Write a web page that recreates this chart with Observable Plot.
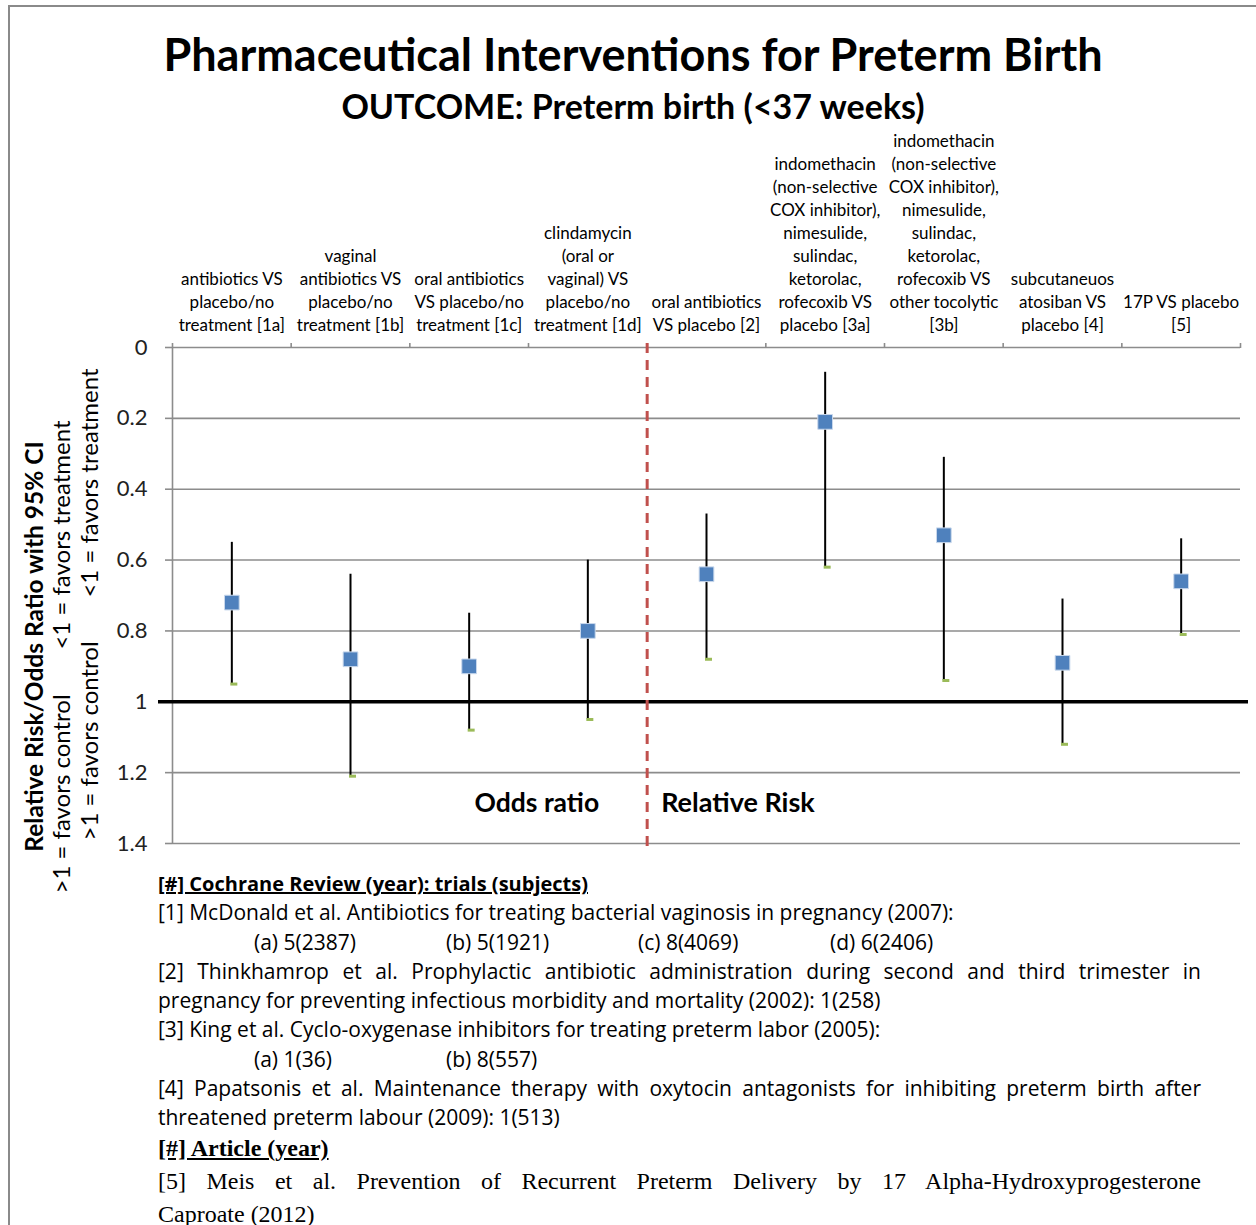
<!DOCTYPE html>
<html>
<head>
<meta charset="utf-8">
<script src="https://cdn.jsdelivr.net/npm/d3@7"></script>
<script src="https://cdn.jsdelivr.net/npm/@observablehq/plot@0.6"></script>
<style>
  html, body { margin: 0; padding: 0; background: #fff; }
  body { width: 1256px; height: 1225px; overflow: hidden; position: relative; font-family: Lato, sans-serif; color: #000; }
  #border { position: absolute; left: 8px; top: 5px; width: 1300px; height: 1300px; border-left: 2px solid #8a8a8a; border-top: 2px solid #8a8a8a; }
  .title { position: absolute; left: 8px; width: 1250px; text-align: center; font-weight: 700; white-space: nowrap; }
  #t1 { top: 32px; font-size: 45px; line-height: 45px; }
  #t2 { top: 89px; font-size: 34px; line-height: 34px; }
  #chart { position: absolute; left: 0; top: 130px; }
  #notes { position: absolute; left: 158px; top: 869px; width: 1043px; font-family: "Open Sans", sans-serif; font-size: 21px; }
  #notes .ln { height: 29.3px; line-height: 29.3px; white-space: nowrap; }
  #notes .jf { text-align: justify; text-align-last: justify; white-space: normal; }
  #notes .hd { font-weight: 700; text-decoration: underline; font-size: 20px; }
  #notes .col { display: inline-block; width: 192px; }
  #notes .ind { padding-left: 96px; }
  #serif { position: absolute; left: 158px; top: 1132px; width: 1043px; font-family: "Liberation Serif", serif; font-size: 24px; }
  #serif .ln { height: 33px; line-height: 33px; white-space: nowrap; }
  #serif .jf { text-align: justify; text-align-last: justify; white-space: normal; }
  #serif .hd { font-weight: 700; text-decoration: underline; }
</style>
</head>
<body>
<div id="border"></div>
<div class="title" id="t1"></div>
<div class="title" id="t2"></div>
<div id="chart"></div>
<div id="notes"></div>
<div id="serif"></div>
<script>
// ---------- data ----------
const chartTitle = "Pharmaceutical Interventions for Preterm Birth";
const chartSubtitle = "OUTCOME: Preterm birth (<37 weeks)";
const categories = [
  "antibiotics VS\nplacebo/no\ntreatment [1a]",
  "vaginal\nantibiotics VS\nplacebo/no\ntreatment [1b]",
  "oral antibiotics\nVS placebo/no\ntreatment [1c]",
  "clindamycin\n(oral or\nvaginal) VS\nplacebo/no\ntreatment [1d]",
  "oral antibiotics\nVS placebo [2]",
  "indomethacin\n(non-selective\nCOX inhibitor),\nnimesulide,\nsulindac,\nketorolac,\nrofecoxib VS\nplacebo [3a]",
  "indomethacin\n(non-selective\nCOX inhibitor),\nnimesulide,\nsulindac,\nketorolac,\nrofecoxib VS\nother tocolytic\n[3b]",
  "subcutaneuos\natosiban VS\nplacebo [4]",
  "17P VS placebo\n[5]"
];
const measure  = ["OR", "OR", "OR", "OR", "RR", "RR", "RR", "RR", "RR"];
const estimate = [0.72, 0.88, 0.90, 0.80, 0.64, 0.21, 0.53, 0.89, 0.66];
const ciLower  = [0.55, 0.64, 0.75, 0.60, 0.47, 0.07, 0.31, 0.71, 0.54];
const ciUpper  = [0.95, 1.21, 1.08, 1.05, 0.88, 0.62, 0.94, 1.12, 0.81];
const yTickLabels = ["0", "0.2", "0.4", "0.6", "0.8", "1", "1.2", "1.4"];
const referenceValue = 1;
const groupLabels = ["Odds ratio", "Relative Risk"];
const yTitle = "Relative Risk/Odds Ratio with 95% CI";
const favorsControl = ">1 = favors control";
const favorsTreatment = "<1 = favors treatment";

// ---------- build ----------
document.getElementById("t1").textContent = chartTitle;
document.getElementById("t2").textContent = chartSubtitle;

const yTicks = yTickLabels.map(Number);
const data = categories.map((c, i) => ({pos: i + 0.5, label: c, est: estimate[i], lo: ciLower[i], hi: ciUpper[i]}));
const boundaries = d3.range(categories.length + 1);
const centers = data.map(d => d.pos);
const divider = measure.filter(m => m === "OR").length;

const gray = "#8c8c8c";
const chart = Plot.plot({
  width: 1256,
  height: 740,
  marginLeft: 172,
  marginRight: 16,
  marginTop: 217,
  marginBottom: 27,
  x: {domain: [0, categories.length]},
  y: {domain: [yTicks[0], yTicks[yTicks.length - 1]], reverse: true},
  style: {fontFamily: "Lato, sans-serif", overflow: "visible", background: "transparent", color: "#000"},
  marks: [
    Plot.gridY(yTicks, {stroke: gray, strokeOpacity: 1, strokeWidth: 1.6}),
    Plot.axisY(yTicks, {anchor: "left", label: null, tickSize: 7, stroke: gray, strokeWidth: 1.6, tickPadding: 18, fontSize: 22,
      tickFormat: d => yTickLabels[yTicks.indexOf(d)], fill: "#222"}),
    Plot.ruleX([0], {stroke: gray, strokeWidth: 1.6}),
    Plot.axisX(boundaries, {anchor: "top", label: null, tickSize: 5, stroke: gray, strokeWidth: 1.6, tickFormat: () => ""}),
    Plot.axisX(centers, {anchor: "top", label: null, tickSize: 0, tickPadding: 17, fontSize: 17, lineHeight: 1.35,
      lineAnchor: "bottom", tickFormat: d => categories[Math.round(d - 0.5)], fill: "#000"}),
    Plot.ruleY([referenceValue], {stroke: "#000", strokeWidth: 3.5, insetLeft: -14, insetRight: -8}),
    Plot.ruleX([divider], {stroke: "#c0504d", strokeWidth: 3, strokeDasharray: "10,7", insetTop: -4, insetBottom: -10}),
    Plot.ruleX(data, {x: "pos", y1: "lo", y2: "hi", stroke: "#000", strokeWidth: 2}),
    Plot.ruleY(data, {y: "hi", x1: "pos", x2: "pos", insetLeft: -1, insetRight: -6, stroke: "#9bbb59", strokeWidth: 3}),
    Plot.dot(data, {x: "pos", y: "est", symbol: "square", r: 8.3, fill: "#4f81bd", stroke: "#c9d8ec", strokeWidth: 1}),
    Plot.text([groupLabels[0]], {x: [divider], frameAnchor: "bottom", textAnchor: "end", lineAnchor: "bottom",
      dx: -48, dy: -32, fontSize: 26.5, fontWeight: 700, fill: "#000"}),
    Plot.text([groupLabels[1]], {x: [divider], frameAnchor: "bottom", textAnchor: "start", lineAnchor: "bottom",
      dx: 14, dy: -32, fontSize: 27, fontWeight: 700, fill: "#000"}),
    // y axis titles (rotated)
    Plot.text([yTitle], {frameAnchor: "left", rotate: -90, textAnchor: "middle", dx: -137, dy: 51, fontSize: 24.5, fontWeight: 700, fill: "#000"}),
    Plot.text([favorsControl], {frameAnchor: "left", rotate: -90, textAnchor: "start", dx: -110, dy: 298, fontSize: 24, fill: "#000"}),
    Plot.text([favorsTreatment], {frameAnchor: "left", rotate: -90, textAnchor: "end", dx: -110, dy: -175, fontSize: 24, fill: "#000"}),
    Plot.text([favorsControl], {frameAnchor: "left", rotate: -90, textAnchor: "start", dx: -82, dy: 245, fontSize: 24, fill: "#000"}),
    Plot.text([favorsTreatment], {frameAnchor: "left", rotate: -90, textAnchor: "end", dx: -82, dy: -227, fontSize: 24, fill: "#000"})
  ]
});
document.getElementById("chart").appendChild(chart);

// ---------- footnotes ----------
const notes = document.getElementById("notes");
notes.innerHTML = `
<div class="ln hd">[#] Cochrane Review (year): trials (subjects)</div>
<div class="ln">[1] McDonald et al. Antibiotics for treating bacterial vaginosis in pregnancy (2007):</div>
<div class="ln ind"><span class="col">(a) 5(2387)</span><span class="col">(b) 5(1921)</span><span class="col">(c) 8(4069)</span><span class="col">(d) 6(2406)</span></div>
<div class="ln jf">[2] Thinkhamrop et al. Prophylactic antibiotic administration during second and third trimester in</div>
<div class="ln">pregnancy for preventing infectious morbidity and mortality (2002): 1(258)</div>
<div class="ln">[3] King et al. Cyclo-oxygenase inhibitors for treating preterm labor (2005):</div>
<div class="ln ind"><span class="col">(a) 1(36)</span><span class="col">(b) 8(557)</span></div>
<div class="ln jf">[4] Papatsonis et al. Maintenance therapy with oxytocin antagonists for inhibiting preterm birth after</div>
<div class="ln">threatened preterm labour (2009): 1(513)</div>`;
document.getElementById("serif").innerHTML = `
<div class="ln hd">[#] Article (year)</div>
<div class="ln jf">[5] Meis et al. Prevention of Recurrent Preterm Delivery by 17 Alpha-Hydroxyprogesterone</div>
<div class="ln">Caproate (2012)</div>`;
</script>
</body>
</html>
